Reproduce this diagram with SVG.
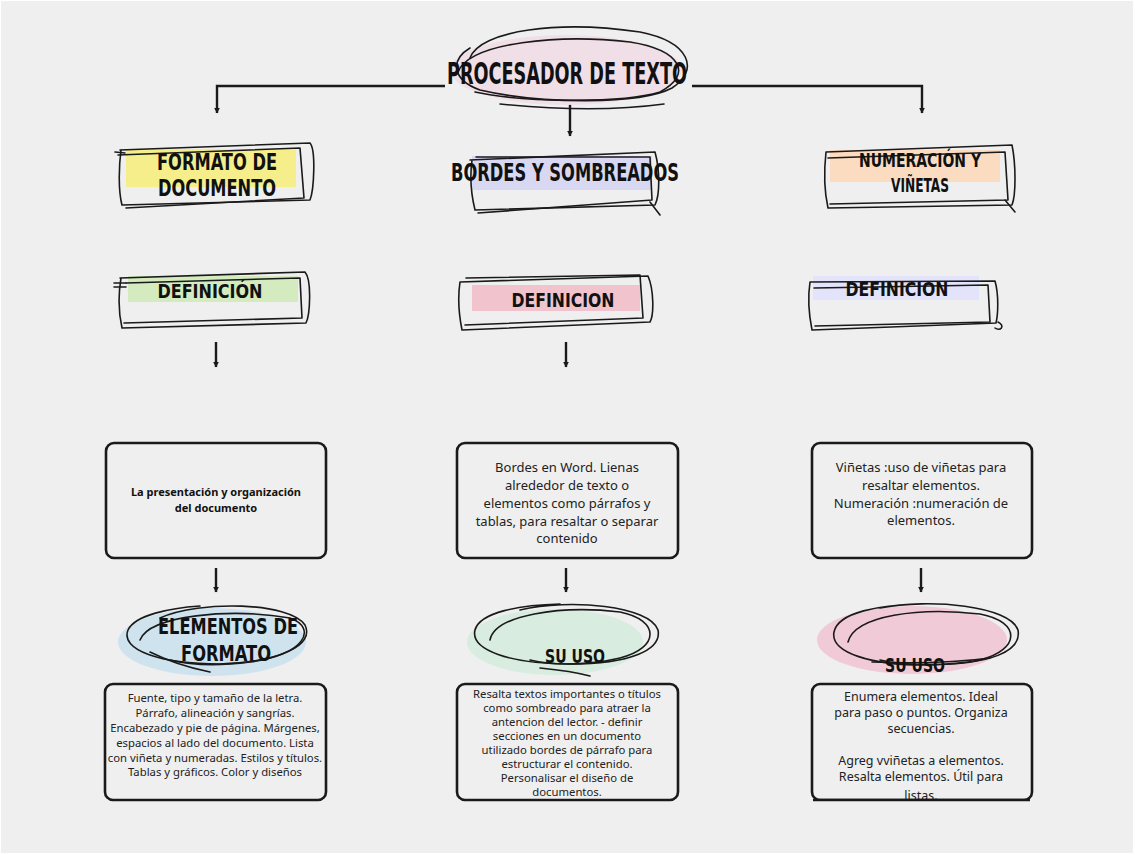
<svg xmlns="http://www.w3.org/2000/svg" width="1135" height="855" viewBox="0 0 1135 855">
<defs>
<marker id="ah" viewBox="0 0 10 10" refX="9" refY="5" markerWidth="6" markerHeight="6" orient="auto" markerUnits="userSpaceOnUse">
<path d="M0,0 L10,5 L0,10 z" fill="#1a1a1a"/>
</marker>
<style>
.sk{fill:none;stroke:#1a1a1a;stroke-width:1.6;stroke-linecap:round;stroke-linejoin:round}
.con{fill:none;stroke:#1a1a1a;stroke-width:2.4;marker-end:url(#ah)}
.box{fill:#efefef;stroke:#1a1a1a;stroke-width:2.6}
.hd{font-family:"DejaVu Sans Condensed","Liberation Sans Narrow","Liberation Sans",sans-serif;font-weight:bold;fill:#111;text-anchor:middle}
.bd{font-family:"Noto Sans","Open Sans",sans-serif;fill:#222;text-anchor:middle;font-size:11.3px}
.bd2{font-family:"Noto Sans","Open Sans",sans-serif;fill:#222;text-anchor:middle;font-size:13px}
.bd3{font-family:"Noto Sans","Open Sans",sans-serif;fill:#222;text-anchor:middle;font-size:12.5px}
.hand{font-family:"Noto Sans","DejaVu Sans",sans-serif;font-weight:bold;fill:#111;text-anchor:middle;font-size:11px}
</style>
</defs>
<rect x="0" y="0" width="1135" height="855" fill="#ffffff"/>
<rect x="1" y="1" width="1132" height="852" fill="#efefef"/>

<g id="connectors">
<path class="con" d="M445,86 H217 V113"/>
<path class="con" d="M692,86 H922 V113"/>
<path class="con" d="M570,101 V136"/>
<path class="con" d="M216,342 V367"/>
<path class="con" d="M566,342 V367"/>
<path class="con" d="M216,568 V592"/>
<path class="con" d="M566,568 V592"/>
<path class="con" d="M921,568 V592"/>
</g>

<g id="title">
<ellipse cx="566" cy="70" rx="116" ry="35" fill="#f0dfe6"/>
<path class="sk" d="M470,58 C480,30 560,20 640,32 C690,42 700,70 672,88 C640,105 540,104 480,90 C452,80 450,60 470,48"/>
<path class="sk" d="M458,72 C470,42 560,34 630,42 C680,50 694,74 660,92 C620,104 520,102 475,92"/>
<path class="sk" d="M500,104 C560,110 620,110 664,104"/>
<text class="hd" x="567" y="84" font-size="30" textLength="240" lengthAdjust="spacingAndGlyphs">PROCESADOR DE TEXTO</text>
</g>

<g id="formato">
<rect x="126" y="149" width="170" height="38" fill="#f6ee8a"/>
<path class="sk" d="M120,150 L310,143 C316,150 314,190 310,200 L122,205 C118,190 119,165 121,150"/>
<path class="sk" d="M118,155 L300,148 L304,198 L126,208"/>
<path class="sk" d="M115,152 L125,153"/>
<text class="hd" x="217" y="170" font-size="23" textLength="120" lengthAdjust="spacingAndGlyphs">FORMATO DE</text>
<text class="hd" x="217" y="196" font-size="23" textLength="118" lengthAdjust="spacingAndGlyphs">DOCUMENTO</text>
</g>

<g id="bordes">
<rect x="472" y="156" width="180" height="34" fill="#d8d8f2"/>
<path class="sk" d="M470,160 L655,152 C660,170 660,195 655,205 L475,210 C470,190 470,175 472,160"/>
<path class="sk" d="M476,157 L650,157 L652,200 L478,213"/>
<path class="sk" d="M650,202 L660,215"/>
<text class="hd" x="565" y="181" font-size="24" textLength="228" lengthAdjust="spacingAndGlyphs">BORDES Y SOMBREADOS</text>
</g>

<g id="numeracion">
<rect x="830" y="150" width="170" height="32" fill="#fbdcc0"/>
<path class="sk" d="M826,152 L1012,145 C1016,165 1016,195 1012,205 L828,208 C824,190 824,170 826,152"/>
<path class="sk" d="M828,158 L1005,152 L1008,200 L830,204"/>
<path class="sk" d="M1005,200 L1015,212"/>
<text class="hd" x="920" y="167" font-size="19" textLength="122" lengthAdjust="spacingAndGlyphs">NUMERACIÓN Y</text>
<text class="hd" x="920" y="192" font-size="19" textLength="58" lengthAdjust="spacingAndGlyphs">VIÑETAS</text>
</g>

<g id="def1">
<rect x="128" y="276" width="170" height="26" fill="#d3ebbf"/>
<path class="sk" d="M120,278 L305,272 C312,280 310,315 306,323 L122,328 C118,310 119,290 121,278"/>
<path class="sk" d="M126,283 L300,278 L302,318 L124,323"/>
<path class="sk" d="M114,283 L126,283 M114,287 L126,287"/>
<text class="hd" x="210" y="298" font-size="20" textLength="105" lengthAdjust="spacingAndGlyphs">DEFINICIÓN</text>
</g>

<g id="def2">
<rect x="472" y="285" width="168" height="26" fill="#f1c3cd"/>
<path class="sk" d="M460,282 L648,276 C654,290 654,315 650,322 L462,330 C458,310 458,295 460,282"/>
<path class="sk" d="M466,278 L640,275 L643,318 L465,325"/>
<text class="hd" x="563" y="307" font-size="20" textLength="103" lengthAdjust="spacingAndGlyphs">DEFINICION</text>
</g>

<g id="def3">
<rect x="813" y="276" width="166" height="24" fill="#e3e3fb"/>
<path class="sk" d="M810,282 L995,281 C999,295 998,315 996,323 L812,330 C808,310 808,295 810,282"/>
<path class="sk" d="M814,288 L988,285 L990,322 L815,326"/>
<path class="sk" d="M998,322 C1006,326 1000,332 995,328"/>
<text class="hd" x="897" y="296" font-size="20" textLength="103" lengthAdjust="spacingAndGlyphs">DEFINICION</text>
</g>

<g id="box1">
<rect class="box" x="106" y="443" width="220" height="115" rx="8"/>
<text class="hand" x="216" y="496">La presentación y organización</text>
<text class="hand" x="216" y="512">del documento</text>
</g>

<g id="box2">
<rect class="box" x="457" y="443" width="221" height="115" rx="8"/>
<text class="bd2" x="567" y="472">Bordes en Word. Lienas</text>
<text class="bd2" x="567" y="490">alrededor de texto o</text>
<text class="bd2" x="567" y="508">elementos como párrafos y</text>
<text class="bd2" x="567" y="526">tablas, para resaltar o separar</text>
<text class="bd2" x="567" y="543">contenido</text>
</g>

<g id="box3">
<rect class="box" x="812" y="443" width="220" height="115" rx="8"/>
<text class="bd2" x="921" y="472">Viñetas :uso de viñetas para</text>
<text class="bd2" x="921" y="490">resaltar elementos.</text>
<text class="bd2" x="921" y="508">Numeración :numeración de</text>
<text class="bd2" x="921" y="525">elementos.</text>
</g>

<g id="elementos">
<ellipse cx="212" cy="642" rx="94" ry="34" fill="#cfe3ee"/>
<path class="sk" d="M160,618 C200,600 290,602 305,625 C315,645 280,662 220,664 C160,664 120,650 128,630 C135,615 170,608 200,606"/>
<path class="sk" d="M140,640 C150,615 230,608 290,618 C318,628 305,655 250,662 C220,666 190,665 170,660"/>
<path class="sk" d="M150,652 C170,662 190,668 210,672"/>
<text class="hd" x="228" y="634" font-size="22" textLength="140" lengthAdjust="spacingAndGlyphs">ELEMENTOS DE</text>
<text class="hd" x="226" y="661" font-size="22" textLength="90" lengthAdjust="spacingAndGlyphs">FORMATO</text>
</g>

<g id="uso2">
<ellipse cx="555" cy="642" rx="88" ry="33" fill="#d8ecdf"/>
<path class="sk" d="M520,610 C570,598 650,606 658,630 C662,650 630,664 570,664 C510,664 470,650 475,630 C480,612 520,605 560,604"/>
<path class="sk" d="M490,640 C495,615 560,605 620,612 C660,620 660,648 620,658 C590,665 555,666 530,660"/>
<path class="sk" d="M540,668 C560,670 575,672 590,676"/>
<text class="hd" x="575" y="663" font-size="19" textLength="60" lengthAdjust="spacingAndGlyphs">SU USO</text>
</g>

<g id="uso3">
<ellipse cx="912" cy="640" rx="95" ry="34" fill="#f0cad7"/>
<path class="sk" d="M880,608 C930,598 1010,606 1018,630 C1022,652 990,664 930,665 C870,666 830,652 834,632 C838,612 880,605 920,604"/>
<path class="sk" d="M848,642 C855,615 920,607 980,614 C1022,622 1020,650 980,660 C950,666 905,666 880,660"/>
<path class="sk" d="M872,662 C920,664 960,662 990,658"/>
<text class="hd" x="915" y="672" font-size="19" textLength="60" lengthAdjust="spacingAndGlyphs">SU USO</text>
</g>

<g id="box4">
<rect class="box" x="105" y="684" width="221" height="116" rx="8"/>
<text class="bd" x="215" y="702">Fuente, tipo y tamaño de la letra.</text>
<text class="bd" x="215" y="717">Párrafo, alineación y sangrías.</text>
<text class="bd" x="215" y="732">Encabezado y pie de página. Márgenes,</text>
<text class="bd" x="215" y="747">espacios al lado del documento. Lista</text>
<text class="bd" x="215" y="762">con viñeta y numeradas. Estilos y títulos.</text>
<text class="bd" x="215" y="776">Tablas y gráficos. Color y diseños</text>
</g>

<g id="box5">
<rect class="box" x="457" y="684" width="221" height="116" rx="8"/>
<text class="bd" x="567" y="698">Resalta textos importantes o títulos</text>
<text class="bd" x="567" y="712">como sombreado para atraer la</text>
<text class="bd" x="567" y="726">antencion del lector. - definir</text>
<text class="bd" x="567" y="740">secciones en un documento</text>
<text class="bd" x="567" y="754">utilizado bordes de párrafo para</text>
<text class="bd" x="567" y="768">estructurar el contenido.</text>
<text class="bd" x="567" y="782">Personalisar el diseño de</text>
<text class="bd" x="567" y="796">documentos.</text>
</g>

<g id="box6">
<rect class="box" x="812" y="684" width="220" height="116" rx="8"/>
<text class="bd3" x="921" y="701">Enumera elementos. Ideal</text>
<text class="bd3" x="921" y="717">para paso o puntos. Organiza</text>
<text class="bd3" x="921" y="733">secuencias.</text>
<text class="bd3" x="921" y="765">Agreg vviñetas a elementos.</text>
<text class="bd3" x="921" y="781">Resalta elementos. Útil para</text>
<text class="bd3" x="921" y="800">listas.</text>
<rect x="813" y="801" width="218" height="8" fill="#efefef"/>
<path d="M813,800 H1030" stroke="#1a1a1a" stroke-width="2.6"/>
</g>
</svg>
